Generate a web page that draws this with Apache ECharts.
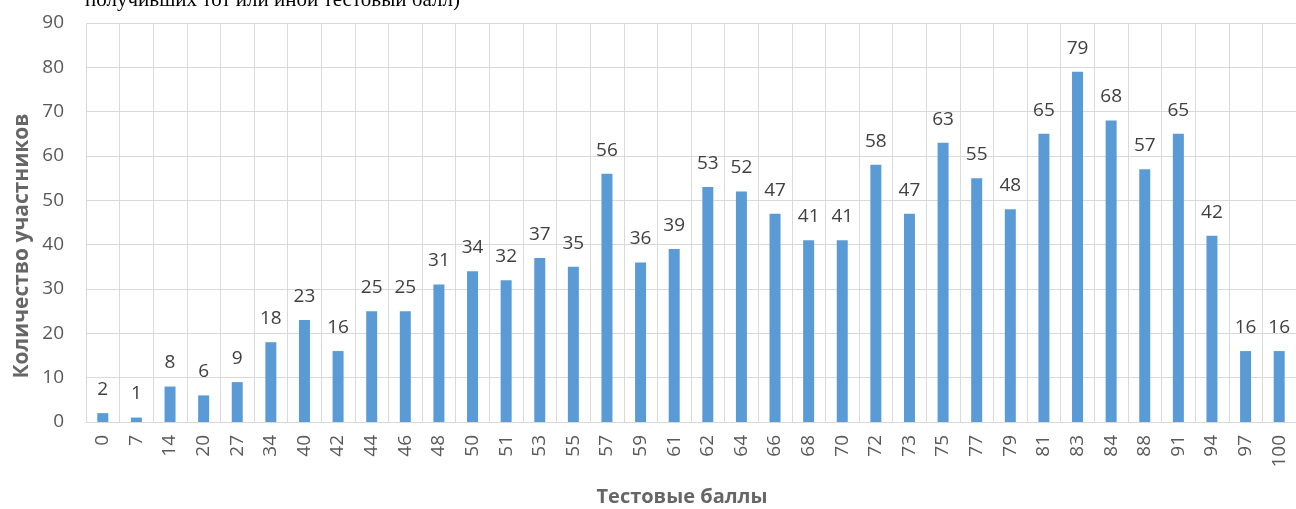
<!DOCTYPE html>
<html>
<head>
<meta charset="utf-8">
<script src="https://cdn.jsdelivr.net/npm/echarts@6/dist/echarts.min.js"></script>
<style>html,body{margin:0;padding:0;background:#fff}#c{width:1296px;height:509px}</style>
</head>
<body>
<div id="c"></div>
<script>
const categories = ['0','7','14','20','27','34','40','42','44','46','48','50','51','53','55','57','59','61','62','64','66','68','70','72','73','75','77','79','81','83','84','88','91','94','97','100'];
const counts = [2,1,8,6,9,18,23,16,25,25,31,34,32,37,35,56,36,39,53,52,47,41,41,58,47,63,55,48,65,79,68,57,65,42,16,16];
const yTicks = {min:0, max:90, interval:10};
const yTitle = 'Количество участников';
const xTitle = 'Тестовые баллы';
const topText = 'получивших тот или иной тестовый балл)';

const chart = echarts.init(document.getElementById('c'));
const font = '"Open Sans", "Liberation Sans", sans-serif';
chart.setOption({
  animation:false,
  grid:{left:86,right:0,top:23,bottom:87,containLabel:false},
  xAxis:{
    type:'category', data:categories,
    axisLine:{show:true,lineStyle:{color:'#d9d9d9'}},
    axisTick:{show:false},
    splitLine:{show:true,lineStyle:{color:'#d9d9d9',width:1}},
    axisLabel:{rotate:90,fontSize:19,color:'#595959',margin:13,fontFamily:font}
  },
  yAxis:{
    type:'value', min:yTicks.min, max:yTicks.max, interval:yTicks.interval,
    axisLine:{show:false}, axisTick:{show:false},
    splitLine:{lineStyle:{color:'#d9d9d9'}},
    axisLabel:{fontSize:19,color:'#595959',margin:22,fontFamily:font}
  },
  series:[{
    type:'bar', data:counts, barWidth:11,
    itemStyle:{color:'#5b9bd5'},
    label:{show:true,position:'top',distance:14,fontSize:19,color:'#404040',fontFamily:font}
  }],
  graphic:[
    {type:'text',left:85,top:-10,style:{text:topText,font:'21px "Liberation Serif", serif',fill:'#000'}},
    {type:'text',x:22,y:246,rotation:Math.PI/2,style:{text:yTitle,font:'bold 21px '+font,fill:'#666666',align:'center',verticalAlign:'middle'}},
    {type:'text',x:682,y:497,style:{text:xTitle,font:'bold 20px '+font,fill:'#666666',align:'center',verticalAlign:'middle'}}
  ]
});
</script>
</body>
</html>
